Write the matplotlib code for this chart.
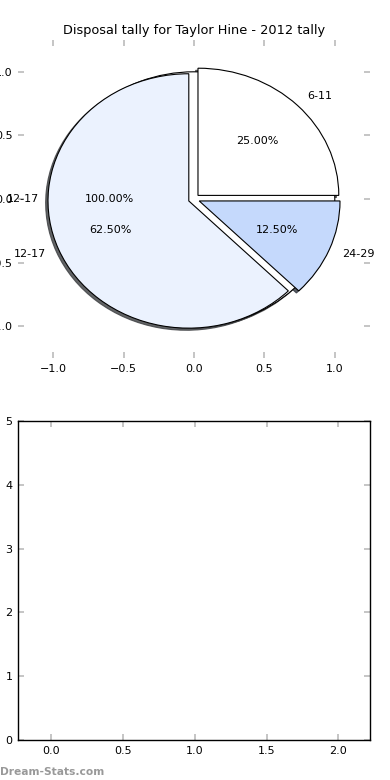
import matplotlib
matplotlib.use("Agg")
import matplotlib.pyplot as plt

title = "Disposal tally for Taylor Hine - 2012 tally"
base_labels = ["12-17"]
base_values = [1]
labels = ["6-11", "12-17", "24-29"]
values = [2, 5, 1]
colors = ["#ffffff", "#ebf2fe", "#c5d9fc"]
explode = [0.04, 0.04, 0.04]
x_ticks_top = [-1.0, -0.5, 0.0, 0.5, 1.0]
y_ticks_top = [-1.0, -0.5, 0.0, 0.5, 1.0]
x_ticks_bottom = [0.0, 0.5, 1.0, 1.5, 2.0]
y_ticks_bottom = [0, 1, 2, 3, 4, 5]

plt.rcParams['font.family'] = ['DejaVu Sans']
fig = plt.figure(figsize=(3.9, 7.8), dpi=100)
ax1 = fig.add_axes([18/390, 1 - 358/780, 352/390, 318/780])
ax2 = fig.add_axes([18/390, 40/780, 352/390, 319/780])

wp = dict(edgecolor="black", linewidth=0.8)
shd = dict(ox=-0.012, oy=-0.012, shade=0.75, alpha=0.8)
ax1.pie(base_values, labels=base_labels, colors=[colors[0]], autopct="%.2f%%",
        shadow=shd, wedgeprops=wp, textprops=dict(fontsize=8), frame=True)
ax1.pie(values, labels=labels, colors=colors, explode=explode, autopct="%.2f%%",
        shadow=shd, wedgeprops=wp, textprops=dict(fontsize=8), frame=True)
ax1.set_aspect("auto")
ax1.set_xlim(-1.25, 1.25)
ax1.set_ylim(-1.25, 1.25)
ax1.set_xticks(x_ticks_top)
ax1.set_yticks(y_ticks_top)
ax1.set_xticklabels(["\u22121.0", "\u22120.5", "0.0", "0.5", "1.0"])
ax1.set_yticklabels(["\u22121.0", "\u22120.5", "0.0", "0.5", "1.0"])
for s in ax1.spines.values():
    s.set_visible(False)
ax1.set_title(title, fontsize=9.3, pad=4)

ax2.set_xlim(-0.23, 2.22)
ax2.set_ylim(0, 5)
ax2.set_xticks(x_ticks_bottom)
ax2.set_yticks(y_ticks_bottom)
for s in ax2.spines.values():
    s.set_linewidth(1.0)

for ax in (ax1, ax2):
    ax.tick_params(direction="in", length=4, width=1.2, color="#bbbbbb",
                   labelsize=8, top=True, right=True, pad=4)

fig.text(0.0, 3/780, "Dream-Stats.com", color="#999999", fontsize=7.7,
         fontweight="bold", ha="left", va="bottom")

fig.savefig("out.png", dpi=100)
